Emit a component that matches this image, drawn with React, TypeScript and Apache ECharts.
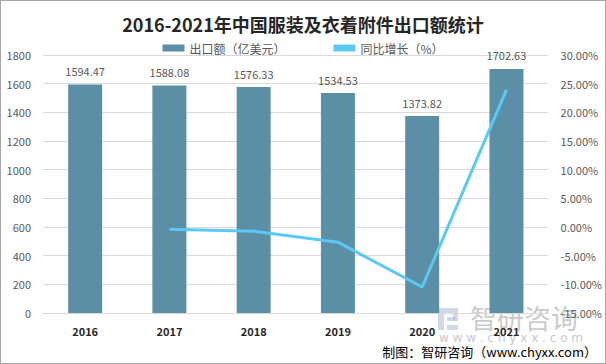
import React, { useEffect, useRef } from "react";
import * as echarts from "echarts";

const categories = ["2016", "2017", "2018", "2019", "2020", "2021"];
const exportValues = [1594.47, 1588.08, 1576.33, 1534.53, 1373.82, 1702.63];
const growthValues: (number | null)[] = [null, -0.4, -0.74, -2.65, -10.47, 23.93];
const leftTicks = { min: 0, max: 1800, interval: 200 };
const rightTicks = { min: -15, max: 30, interval: 5 };

export default function App() {
  const ref = useRef<HTMLDivElement>(null);
  useEffect(() => {
    if (!ref.current) return;
    const chart = echarts.init(ref.current, null, { renderer: "svg" });
    const font = "'Noto Sans CJK SC', 'Noto Sans', sans-serif";
    chart.setOption({
      animation: false,
      backgroundColor: "#ffffff",
      textStyle: { fontFamily: font },
      title: {
        text: "2016-2021年中国服装及衣着附件出口额统计",
        left: "center",
        top: 9,
        textStyle: { fontSize: 18, fontWeight: "bold", color: "#262626", fontFamily: font },
      },
      legend: {
        top: 36,
        left: "center",
        itemGap: 48,
        itemWidth: 22,
        itemHeight: 7,
        textStyle: { fontSize: 12, color: "#595959", fontFamily: font },
        data: [
          { name: "出口额（亿美元）", icon: "rect" },
          { name: "同比增长（%）", icon: "rect" },
        ],
      },
      grid: { left: 42, right: 56, top: 54, bottom: 50 },
      xAxis: {
        type: "category",
        data: categories,
        axisLine: { show: true, lineStyle: { color: "#d9d9d9" } },
        axisTick: { show: false },
        axisLabel: { color: "#262626", fontSize: 11, fontWeight: "bold", margin: 12 },
      },
      yAxis: [
        {
          type: "value",
          ...leftTicks,
          axisLine: { show: false },
          axisTick: { show: false },
          splitLine: { lineStyle: { color: "#d9d9d9" } },
          axisLabel: { color: "#595959", fontSize: 11, margin: 12, formatter: (v: number) => String(v) },
        },
        {
          type: "value",
          ...rightTicks,
          axisLine: { show: false },
          axisTick: { show: false },
          splitLine: { show: false },
          axisLabel: {
            color: "#595959",
            fontSize: 11,
            margin: 12,
            formatter: (v: number) => v.toFixed(2) + "%",
          },
        },
      ],
      series: [
        {
          name: "出口额（亿美元）",
          type: "bar",
          data: exportValues,
          barWidth: 34,
          itemStyle: { color: "#5b8fa6" },
          label: {
            show: true,
            position: "top",
            distance: 8,
            color: "#595959",
            fontSize: 11,
            formatter: (p: any) => p.value.toFixed(2),
          },
        },
        {
          name: "同比增长（%）",
          type: "line",
          yAxisIndex: 1,
          data: growthValues,
          symbol: "none",
          lineStyle: { color: "#5bc8f5", width: 3 },
          itemStyle: { color: "#5bc8f5" },
          z: 3,
        },
      ],
      graphic: [
        {
          type: "group",
          z: 100,
          children: [
            { type: "rect", shape: { x: 437, y: 307, width: 6, height: 22 }, style: { fill: "rgba(150,170,200,0.45)" } },
            { type: "rect", shape: { x: 443, y: 307, width: 14, height: 5 }, style: { fill: "rgba(150,170,200,0.45)" } },
            { type: "rect", shape: { x: 452, y: 312, width: 5, height: 8 }, style: { fill: "rgba(150,170,200,0.45)" } },
            { type: "rect", shape: { x: 446, y: 316, width: 8, height: 4 }, style: { fill: "rgba(150,170,200,0.45)" } },
            { type: "rect", shape: { x: 446, y: 324, width: 11, height: 5 }, style: { fill: "rgba(150,170,200,0.45)" } },
            {
              type: "text",
              x: 469,
              y: 303,
              style: { text: "智研咨询", fontSize: 27, fill: "rgba(150,150,150,0.5)", fontFamily: font },
            },
            {
              type: "text",
              x: 438,
              y: 331,
              style: { text: "w w w . c h y x x . c o m", fontSize: 12, fill: "#c8c8c8", fontFamily: "'DejaVu Sans', sans-serif" },
            },
          ],
        },
        {
          type: "text",
          right: 8,
          top: 344,
          z: 101,
          style: { text: "制图：智研咨询（www.chyxx.com）", fontSize: 13, fill: "#000000", fontFamily: font },
        },
      ],
    });
    return () => chart.dispose();
  }, []);
  return (
    <div
      ref={ref}
      style={{ width: 606, height: 364, position: "absolute", left: 0, top: 0, boxSizing: "border-box", border: "1px solid #a6a6a6" }}
    />
  );
}
